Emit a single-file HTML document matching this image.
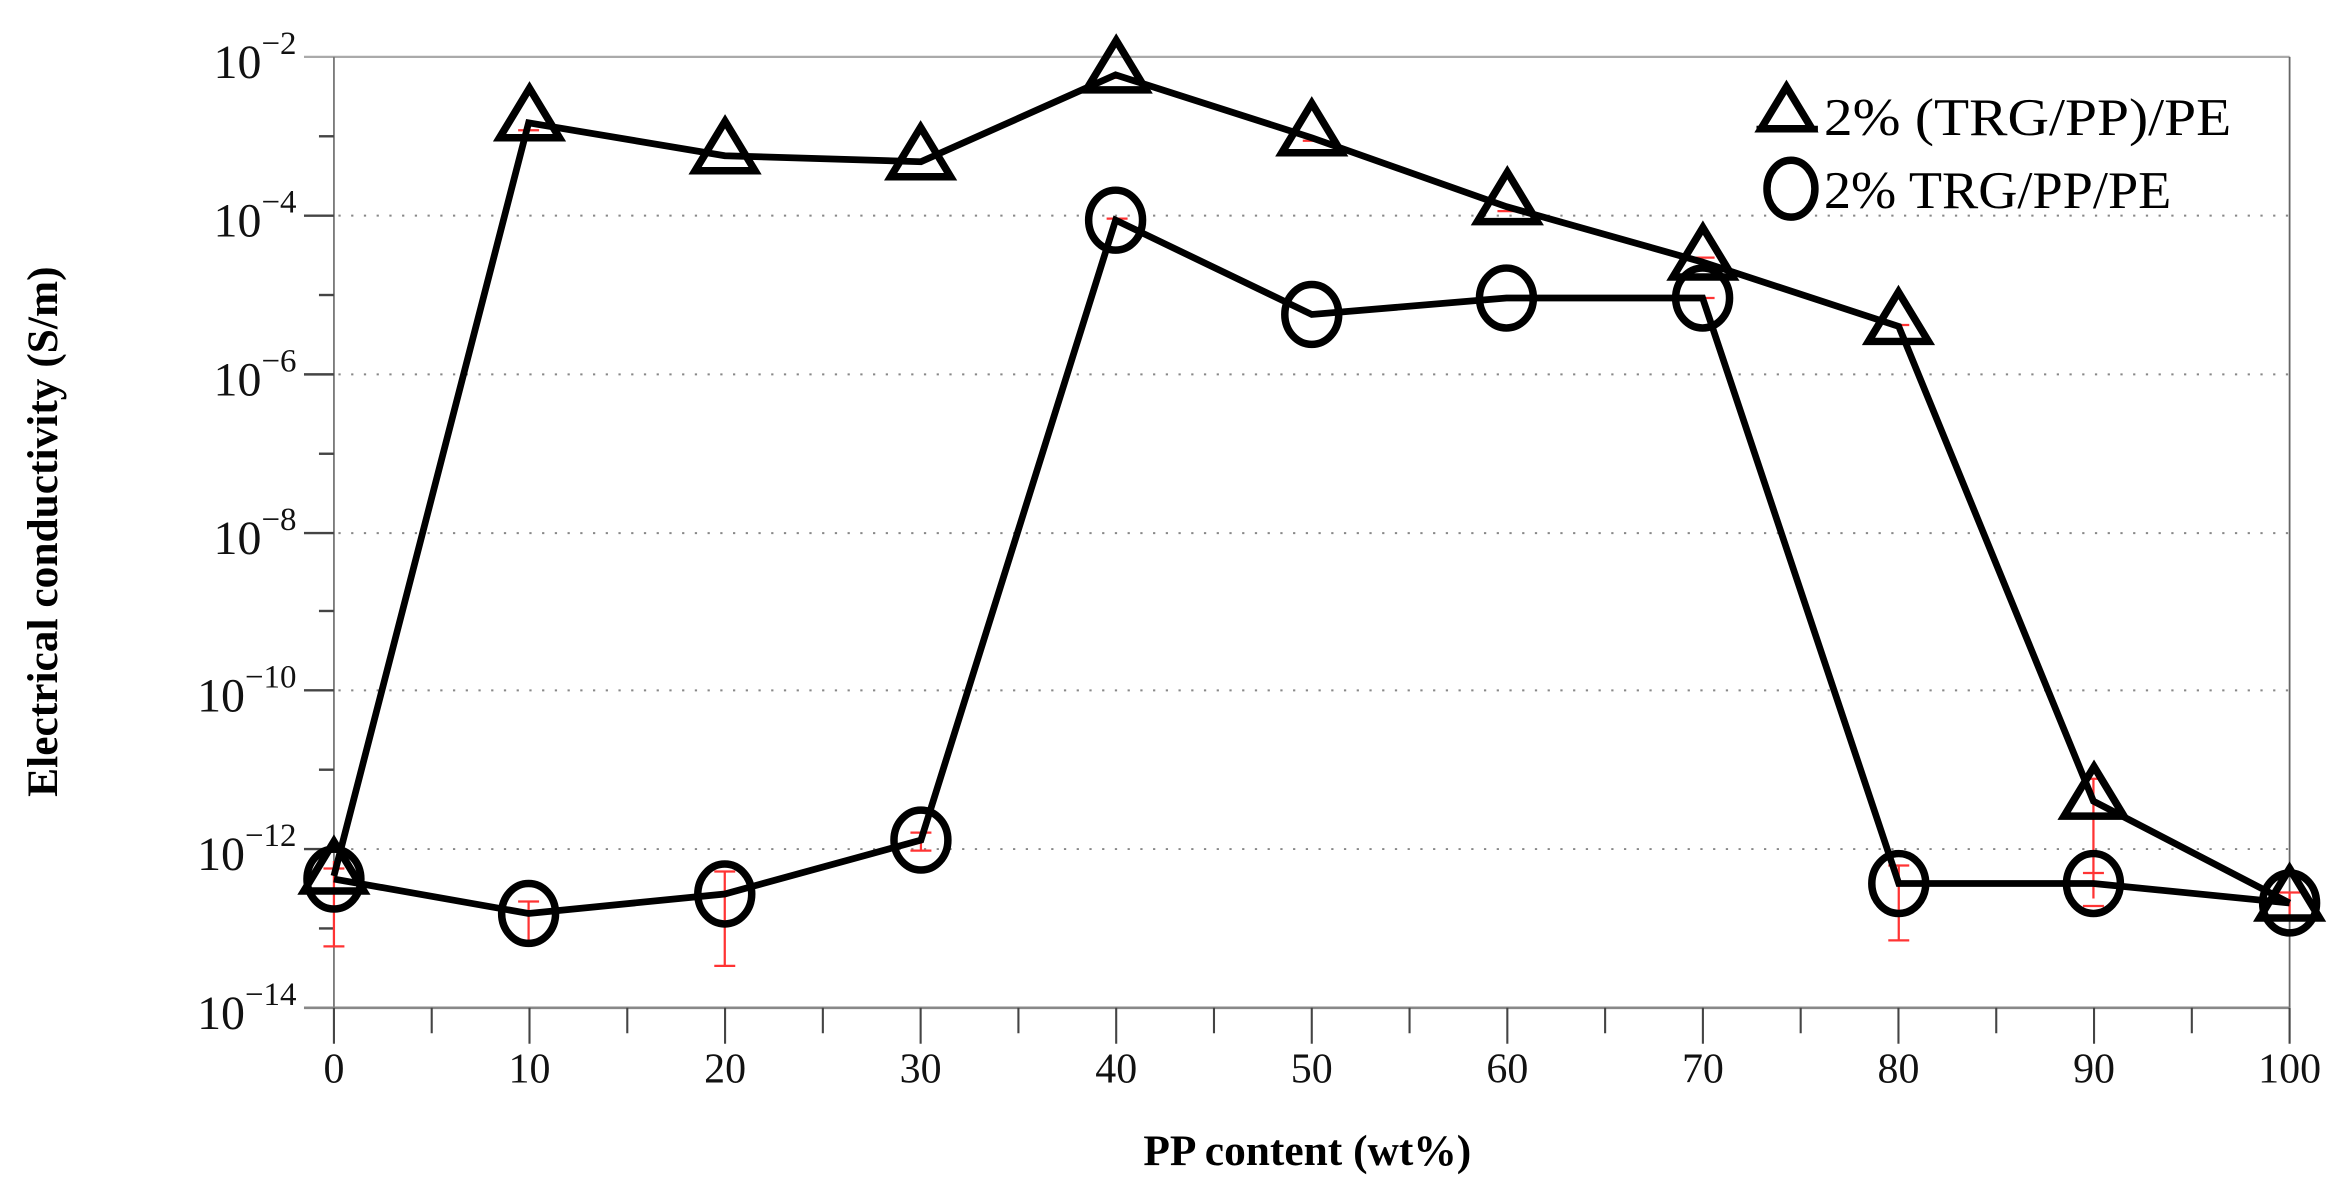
<!DOCTYPE html>
<html><head><meta charset="utf-8"><style>html,body{margin:0;padding:0;background:#fff;}svg{display:block}</style></head>
<body>
<svg width="2348" height="1195" viewBox="0 0 1568 798" xmlns="http://www.w3.org/2000/svg" font-family="'Liberation Serif', serif">
<rect width="1568" height="798" fill="#fff"/>
<g stroke="#888" stroke-width="1.3" stroke-dasharray="1.5 7">
<line x1="226" y1="144" x2="1529" y2="144"/>
<line x1="226" y1="250" x2="1529" y2="250"/>
<line x1="226" y1="356" x2="1529" y2="356"/>
<line x1="226" y1="461" x2="1529" y2="461"/>
<line x1="226" y1="567" x2="1529" y2="567"/>
</g>
<line x1="203" y1="38" x2="1529" y2="38" stroke="#aaa" stroke-width="1.5"/>
<line x1="1529" y1="38" x2="1529" y2="673" stroke="#666" stroke-width="1.2"/>
<line x1="223" y1="38" x2="223" y2="673" stroke="#777" stroke-width="1.2"/>
<line x1="203" y1="673" x2="1529" y2="673" stroke="#888" stroke-width="1.8"/>
<g stroke="#444" stroke-width="1.6">
<line x1="203" y1="144" x2="223" y2="144"/><line x1="203" y1="250" x2="223" y2="250"/><line x1="203" y1="356" x2="223" y2="356"/><line x1="203" y1="461" x2="223" y2="461"/><line x1="203" y1="567" x2="223" y2="567"/>
<line x1="213" y1="91" x2="223" y2="91"/><line x1="213" y1="197" x2="223" y2="197"/><line x1="213" y1="303" x2="223" y2="303"/><line x1="213" y1="408" x2="223" y2="408"/><line x1="213" y1="514" x2="223" y2="514"/><line x1="213" y1="620" x2="223" y2="620"/>
</g>
<g stroke="#444" stroke-width="1.4" id="xt"></g>
<g font-size="32" text-anchor="end" fill="#111">
<text x="198" y="52">10<tspan dy="-16" font-size="22">−2</tspan></text>
<text x="198" y="158">10<tspan dy="-16" font-size="22">−4</tspan></text>
<text x="198" y="264">10<tspan dy="-16" font-size="22">−6</tspan></text>
<text x="198" y="370">10<tspan dy="-16" font-size="22">−8</tspan></text>
<text x="198" y="475">10<tspan dy="-16" font-size="22">−10</tspan></text>
<text x="198" y="581">10<tspan dy="-16" font-size="22">−12</tspan></text>
<text x="198" y="687">10<tspan dy="-16" font-size="22">−14</tspan></text>
</g>
<g font-size="28" text-anchor="middle" fill="#111" id="xl"></g>
<text x="873" y="778" font-size="29" font-weight="bold" text-anchor="middle">PP content (wt%)</text>
<text transform="translate(38,355) rotate(-90)" font-size="29" font-weight="bold" text-anchor="middle">Electrical conductivity (S/m)</text>
<g stroke="#f33" stroke-width="1.5" fill="none">
<path d="M223 575V632M216 632h14M216 580h14"/>
<path d="M353 602V630M346 602h14"/>
<path d="M484 582V645M477 582h14M477 645h14"/>
<path d="M615 556V568M608 556h14M608 568h14"/>
<path d="M1268 578V628M1261 578h14M1261 628h14"/>
<path d="M1398 520V600M1391 520h14M1391 583h14M1391 605h14"/>
<path d="M1529 596V613M1522 596h14M1522 613h14"/>
<path d="M346 87h14"/><path d="M477 104h14"/><path d="M739 52h14"/><path d="M870 94h14"/><path d="M1000 141h14"/><path d="M1131 172h14"/><path d="M1261 217h14"/>
<path d="M739 146h14"/><path d="M870 209h14"/><path d="M1000 199h14"/><path d="M1131 199h14"/>
</g>
<polyline fill="none" stroke="#000" stroke-width="4.5" points="223,587 353,610 484,597 615,561 745,147 876,210 1006,199 1137,199 1268,590 1398,590 1529,603"/>
<g fill="none" stroke="#000" stroke-width="5">
<ellipse cx="223" cy="587" rx="18" ry="20"/><ellipse cx="353" cy="610" rx="18" ry="20"/><ellipse cx="484" cy="597" rx="18" ry="20"/><ellipse cx="615" cy="561" rx="18" ry="20"/><ellipse cx="745" cy="147" rx="18" ry="20"/><ellipse cx="876" cy="210" rx="18" ry="20"/><ellipse cx="1006" cy="199" rx="18" ry="20"/><ellipse cx="1137" cy="199" rx="18" ry="20"/><ellipse cx="1268" cy="590" rx="18" ry="20"/><ellipse cx="1398" cy="590" rx="18" ry="20"/><ellipse cx="1529" cy="603" rx="18" ry="20"/>
</g>
<polyline fill="none" stroke="#000" stroke-width="4.5" points="223,585 353,82 484,104 615,108 745,50 876,92 1006,138 1137,175 1268,218 1398,535 1529,603"/>
<g fill="none" stroke="#000" stroke-width="5" stroke-linejoin="miter" id="tri"></g>
<line x1="1173" y1="86" x2="1214" y2="86" stroke="#000" stroke-width="4"/>
<path d="M1193 58 L1210 86 L1176 86 Z" fill="#fff" stroke="#000" stroke-width="5"/>
<text x="1218" y="90" font-size="35" textLength="272" lengthAdjust="spacingAndGlyphs">2% (TRG/PP)/PE</text>
<ellipse cx="1196" cy="126" rx="16" ry="19" fill="none" stroke="#000" stroke-width="5"/>
<text x="1218" y="139" font-size="35" textLength="232" lengthAdjust="spacingAndGlyphs">2% TRG/PP/PE</text>
<script>
var ns="http://www.w3.org/2000/svg";
var xt=document.getElementById('xt'),xl=document.getElementById('xl'),tri=document.getElementById('tri');
for(var i=0;i<=20;i++){var x=223+i*65.3;var l=document.createElementNS(ns,'line');l.setAttribute('x1',x);l.setAttribute('x2',x);l.setAttribute('y1',673);l.setAttribute('y2',i%2?690:697);xt.appendChild(l);
if(i%2==0){var t=document.createElementNS(ns,'text');t.setAttribute('x',x);t.setAttribute('y',723);t.textContent=i*5;xl.appendChild(t);}}
var ty=[585,82,104,108,50,92,138,175,218,535,603];
ty.forEach(function(y,i){var x=223+i*130.6;var p=document.createElementNS(ns,'path');p.setAttribute('d','M'+x+' '+(y-23)+' L'+(x+20)+' '+(y+10)+' L'+(x-20)+' '+(y+10)+' Z');tri.appendChild(p);});
</script>
</svg>
</body></html>
